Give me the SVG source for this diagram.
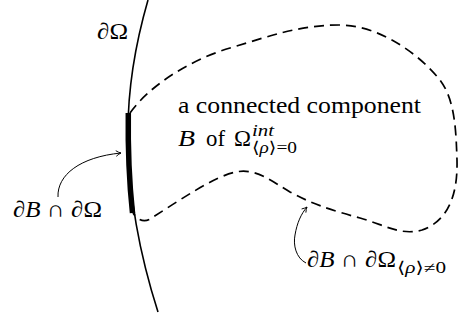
<svg xmlns="http://www.w3.org/2000/svg" width="458" height="320" viewBox="0 0 458 320">
<defs>
<style>
text{font-family:'Liberation Serif','DejaVu Serif',serif;font-size:23px;fill:#000}
.s{font-size:16px}
.i{font-style:italic}
.thin{fill:none;stroke:#000;stroke-width:1}
</style>
<marker id="ah" viewBox="-6 -4 8 8" markerWidth="8" markerHeight="8" refX="0" refY="0" orient="auto" markerUnits="userSpaceOnUse">
<path d="M-5,-2.8 Q-2,-0.6 0,0 Q-2,0.6 -5,2.8" fill="none" stroke="#000" stroke-width="0.9"/>
</marker>
</defs>
<rect width="458" height="320" fill="#fff"/>
<g id="boundary">
<path d="M148,0 C135,45 127,90 128,140 C129,200 142,262 158,312" fill="none" stroke="#000" stroke-width="1.6"/>
<path d="M128.3,113 C127.8,150 129.5,185 132.5,213" fill="none" stroke="#000" stroke-width="5.5"/>
</g>
<g id="component">
<path d="M130,113 C150,85 190,60 230,48 C270,36 300,25 339,25 C380,25 420,55 440,80 C455,100 456,130 457,160 C458,200 445,222 422,230 C400,236 385,225 360,218 C330,210 310,203 290,192 C270,180 255,168 236,172 C215,176 180,200 150,219 C143,223 137,219 133,213" fill="none" stroke="#000" stroke-width="1.7" stroke-dasharray="10,6"/>
</g>
<g id="connectors">
<path class="thin" d="M58,197 C57,175 80,157 121,153" marker-end="url(#ah)"/>
<path class="thin" d="M306,263 C296,258 293,245 295,235 C297,223 301,214 307,207" marker-end="url(#ah)"/>
</g>
<g id="label-domega">
<text x="97" y="39" textLength="31" lengthAdjust="spacingAndGlyphs">∂Ω</text>
</g>
<g id="label-component">
<text x="178" y="113" textLength="243" lengthAdjust="spacingAndGlyphs">a connected component</text>
<text class="i" x="178" y="146" textLength="17" lengthAdjust="spacingAndGlyphs">B</text>
<text x="206" y="146" textLength="19" lengthAdjust="spacingAndGlyphs">of</text>
<text x="234" y="146" textLength="17" lengthAdjust="spacingAndGlyphs">Ω</text>
<text class="s i" x="252" y="136" textLength="22" lengthAdjust="spacingAndGlyphs">int</text>
<text class="s" x="252" y="153" textLength="45" lengthAdjust="spacingAndGlyphs">⟨<tspan class="i">ρ</tspan>⟩=0</text>
</g>
<g id="label-left">
<text x="13" y="217" textLength="89" lengthAdjust="spacingAndGlyphs">∂<tspan class="i">B</tspan> ∩ ∂Ω</text>
</g>
<g id="label-right">
<text x="307" y="267" textLength="89" lengthAdjust="spacingAndGlyphs">∂<tspan class="i">B</tspan> ∩ ∂Ω</text>
<text class="s" x="397" y="273" textLength="49" lengthAdjust="spacingAndGlyphs">⟨<tspan class="i">ρ</tspan>⟩≠0</text>
</g>
</svg>
